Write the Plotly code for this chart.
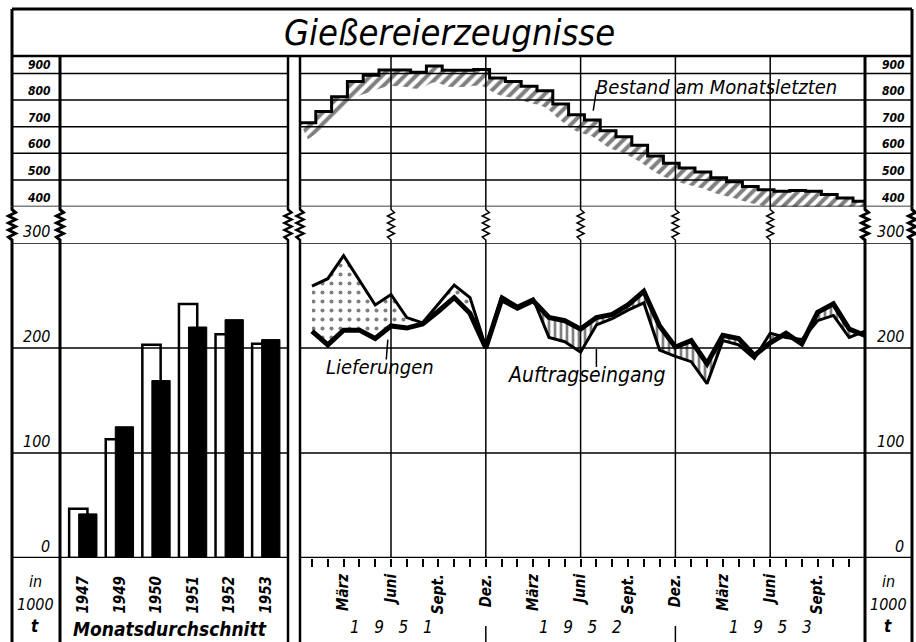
import numpy as np
import plotly.graph_objects as go

W, H = 916, 642

# ---- data (in 1000 t) ----
years = ["1947", "1949", "1950", "1951", "1952", "1953"]
avg_orders = [47, 113, 203, 242, 213, 204]        # Auftragseingang, Monatsdurchschnitt (weiss)
avg_deliveries = [42, 125, 169, 220, 227, 208]    # Lieferungen, Monatsdurchschnitt (schwarz)

month_names = ["Jan.", "Febr.", "März", "April", "Mai", "Juni",
               "Juli", "Aug.", "Sept.", "Okt.", "Nov.", "Dez."]
shown_months = ["März", "Juni", "Sept.", "Dez."]
year_labels = ["1   9   5   1", "1   9   5   2", "1   9   5   3"]

# Jan 1951 .. Dez 1953
orders = [259, 266, 288, 265, 241, 251, 229, 224, 242, 260, 248, 201,
          249, 240, 247, 210, 206, 196, 222, 228, 236, 243, 198, 192,
          187, 166, 207, 203, 190, 214, 210, 208, 226, 231, 210, 216]
deliveries = [216, 203, 217, 217, 209, 221, 219, 223, 235, 248, 233, 200,
              246, 238, 245, 229, 226, 218, 229, 232, 241, 254, 221, 201,
              207, 185, 212, 209, 193, 205, 214, 204, 234, 242, 218, 212]
stock = [715, 757, 813, 870, 893, 913, 913, 905, 928, 912, 912, 915,
         883, 870, 852, 835, 785, 745, 725, 685, 662, 630, 590, 563,
         545, 530, 508, 493, 475, 463, 457, 460, 457, 445, 432, 420]

# ---- layout geometry (pixels) ----
X_L, X_COL, X_BAR_R, X_MON_L, X_MON_R, X_R = 12, 60, 288, 300, 865, 912
Y_T, Y_TITLE, Y_UP_B, Y_LO_T, Y_ZERO, Y_B = 9, 56, 206.5, 243, 558, 645
M0, M1 = -0.76, 35.0
UP_PX_PER_UNIT = 0.266
UP_RANGE = [400, 400 + (Y_UP_B - Y_TITLE) / UP_PX_PER_UNIT]
STEP_SHIFT = -0.76


def px(x):
    return x / W


def py(y):
    return 1 - y / H


def m_px(m):
    return X_MON_L + (m - M0) / (M1 - M0) * (X_MON_R - X_MON_L)


FONT = "DejaVu Sans Condensed, Liberation Sans Narrow, DejaVu Sans, sans-serif"

n = len(orders)
mx = np.arange(n, dtype=float)
a = np.array(orders, float)
d = np.array(deliveries, float)


def with_crossings(x, a, b):
    xs, aa, bb = [x[0]], [a[0]], [b[0]]
    for i in range(1, len(x)):
        d0, d1 = a[i - 1] - b[i - 1], a[i] - b[i]
        if d0 * d1 < 0:
            t = d0 / (d0 - d1)
            xc = x[i - 1] + t * (x[i] - x[i - 1])
            yc = a[i - 1] + t * (a[i] - a[i - 1])
            xs.append(xc); aa.append(yc); bb.append(yc)
        xs.append(x[i]); aa.append(a[i]); bb.append(b[i])
    return np.array(xs), np.array(aa), np.array(bb)


xi, ai, di = with_crossings(mx, a, d)

fig = go.Figure()

# bars: monthly averages
bx = np.arange(len(years))
fig.add_trace(go.Bar(x=bx, y=avg_orders, width=0.5, offset=-0.38,
                     marker=dict(color="white", line=dict(color="black", width=2.5)),
                     xaxis="x", yaxis="y", showlegend=False))
fig.add_trace(go.Bar(x=bx, y=avg_deliveries, width=0.5, offset=-0.12,
                     marker=dict(color="black", line=dict(color="black", width=1)),
                     xaxis="x", yaxis="y", showlegend=False))

# dotted area: orders above deliveries
fig.add_trace(go.Scatter(x=xi, y=di, mode="lines", line=dict(width=0), xaxis="x2", yaxis="y",
                         showlegend=False, hoverinfo="skip"))
fig.add_trace(go.Scatter(x=xi, y=np.maximum(ai, di), mode="lines", line=dict(width=0),
                         fill="tonexty", fillcolor="white",
                         fillpattern=dict(shape=".", fgcolor="black", bgcolor="white", size=9, solidity=0.16),
                         xaxis="x2", yaxis="y", showlegend=False, hoverinfo="skip"))
# vertical hatch: deliveries above orders
fig.add_trace(go.Scatter(x=xi, y=np.minimum(ai, di), mode="lines", line=dict(width=0), xaxis="x2", yaxis="y",
                         showlegend=False, hoverinfo="skip"))
fig.add_trace(go.Scatter(x=xi, y=di, mode="lines", line=dict(width=0),
                         fill="tonexty", fillcolor="white",
                         fillpattern=dict(shape="|", fgcolor="black", bgcolor="white", size=6, solidity=0.45),
                         xaxis="x2", yaxis="y", showlegend=False, hoverinfo="skip"))
fig.add_trace(go.Scatter(x=mx, y=a, mode="lines", line=dict(color="black", width=3),
                         xaxis="x2", yaxis="y", showlegend=False, name="Auftragseingang"))
fig.add_trace(go.Scatter(x=mx, y=d, mode="lines", line=dict(color="black", width=5),
                         xaxis="x2", yaxis="y", showlegend=False, name="Lieferungen"))

# stock at month end, with hatched shading below
s = np.array(stock, float)
sx = np.append(mx + STEP_SHIFT, M1)
sy = np.append(s, s[-1])
fig.add_trace(go.Scatter(x=mx + STEP_SHIFT + 0.5, y=s - 62, mode="lines", line=dict(width=0, shape="spline"),
                         xaxis="x2", yaxis="y2", showlegend=False, hoverinfo="skip"))
fig.add_trace(go.Scatter(x=sx, y=sy, mode="lines", line=dict(color="black", width=3, shape="hv"),
                         fill="tonexty", fillcolor="white",
                         fillpattern=dict(shape="/", fgcolor="black", bgcolor="white", size=8, solidity=0.5),
                         xaxis="x2", yaxis="y2", showlegend=False, name="Bestand"))

shapes = []


def hline(y, yref, x0, x1, w=1.5):
    shapes.append(dict(type="line", xref="paper", yref=yref, x0=px(x0), x1=px(x1), y0=y, y1=y,
                       line=dict(color="black", width=w)))


def vline_px(x, y0, y1, w):
    shapes.append(dict(type="line", xref="paper", yref="paper", x0=px(x), x1=px(x), y0=py(y0), y1=py(y1),
                       line=dict(color="black", width=w)))


def zigzag(x, w, amp=3.5):
    pts = [(x, Y_UP_B), (x, Y_UP_B + 3)]
    ys = np.linspace(Y_UP_B + 6, Y_LO_T - 6, 8)
    for i, yy in enumerate(ys):
        pts.append((x + (amp if i % 2 == 0 else -amp), yy))
    pts += [(x, Y_LO_T - 3), (x, Y_LO_T)]
    path = "M " + " L ".join(f"{px(p[0]):.5f},{py(p[1]):.5f}" for p in pts)
    shapes.append(dict(type="path", xref="paper", yref="paper", path=path,
                       line=dict(color="black", width=w)))


def full_vline(x, w, y_end=Y_B):
    vline_px(x, Y_TITLE, Y_UP_B, w)
    zigzag(x, w)
    vline_px(x, Y_LO_T, y_end, w)


# outer frame and title box
vline_px(X_L, Y_T, Y_TITLE, 3)
vline_px(X_R, Y_T, Y_TITLE, 3)
hline(py(Y_T), "paper", X_L, X_R, 3)
hline(py(Y_TITLE), "paper", X_L, X_R, 2.5)

for x, w in [(X_L, 3), (X_COL, 3), (X_BAR_R, 2.5), (X_MON_L, 2.5), (X_MON_R, 3), (X_R, 3)]:
    full_vline(x, w)

# month grid verticals (Juni / Dez.)
for m in range(n - 1):
    if month_names[m % 12] in ("Juni", "Dez."):
        full_vline(m_px(m), 1.5, Y_ZERO)

# year separators under the axis
for m in range(n - 1):
    if month_names[m % 12] == "Dez.":
        vline_px(m_px(m), 626, Y_B, 1.5)

# horizontal lines
for v in [900, 800, 700, 600, 500, 400]:
    hline(v, "y2", X_L, X_BAR_R, 1.5)
    hline(v, "y2", X_MON_L, X_R, 1.5)
for v in [300, 200, 100]:
    hline(v, "y", X_L, X_BAR_R, 1.5)
    hline(v, "y", X_MON_L, X_R, 1.5)
hline(0, "y", X_L, X_BAR_R, 2.5)
hline(0, "y", X_MON_L, X_R, 2.5)

# leader lines for the labels
shapes.append(dict(type="line", xref="x2", yref="y", x0=4.7, x1=4.8, y0=189, y1=208,
                   line=dict(color="black", width=1.5)))
shapes.append(dict(type="line", xref="x2", yref="y", x0=18.0, x1=18.0, y0=182, y1=199,
                   line=dict(color="black", width=1.5)))
shapes.append(dict(type="line", xref="x2", yref="y2", x0=18.0, x1=17.8, y0=838, y1=760,
                   line=dict(color="black", width=1.5)))

ann = []
TF = dict(family=FONT, color="black", style="italic")


def label(text, x, y, xref="paper", yref="paper", size=16, weight="normal", xanchor="center",
          yanchor="middle", angle=0):
    ann.append(dict(text=text, x=x, y=y, xref=xref, yref=yref, showarrow=False, xanchor=xanchor,
                    yanchor=yanchor, textangle=angle,
                    font=dict(TF, size=size, weight=weight)))


label("Gießereierzeugnisse", px(449), py(33), size=36)

for v in [900, 800, 700, 600, 500, 400]:
    label(str(v), px(53), v, yref="y2", size=12, weight="bold", xanchor="right", yanchor="bottom")
    label(str(v), px(907), v, yref="y2", size=12, weight="bold", xanchor="right", yanchor="bottom")
for v in [300, 200, 100, 0]:
    label(str(v), px(52), v, yref="y", size=16, xanchor="right", yanchor="bottom")
    label(str(v), px(906), v, yref="y", size=16, xanchor="right", yanchor="bottom")

for cx in (35, 888):
    label("in", px(cx), py(581), size=16)
    label("1000", px(cx), py(604), size=16)
    label("t", px(cx), py(626), size=17, weight="bold")

label("Monatsdurchschnitt", px(170), py(629), size=19, weight="bold")

for k, txt in enumerate(year_labels):
    label(txt, 5 + 12 * k, py(627), xref="x2", size=17)

label("Lieferungen", 4.3, 182, xref="x2", yref="y", size=20)
label("Auftragseingang", 17.4, 174, xref="x2", yref="y", size=21)
label("Bestand am Monatsletzten", 25.6, 849, xref="x2", yref="y2", size=20)

tick_text = [month_names[m % 12] if (month_names[m % 12] in shown_months and m < n - 1) else ""
             for m in range(n)]

fig.update_layout(
    width=W, height=H, margin=dict(l=0, r=0, t=0, b=0),
    paper_bgcolor="white", plot_bgcolor="white", barmode="overlay", showlegend=False,
    xaxis=dict(domain=[px(X_COL), px(X_BAR_R)], range=[-0.63, 5.6], anchor="y",
               tickvals=list(bx), ticktext=years, tickangle=-90, ticks="", ticklabelstandoff=14,
               tickfont=dict(TF, size=15, weight="bold"), showgrid=False, zeroline=False, showline=False),
    xaxis2=dict(domain=[px(X_MON_L), px(X_MON_R)], range=[M0, M1], anchor="y",
                tickvals=list(mx[:-1]), ticktext=tick_text[:-1], tickangle=-90, ticks="outside", ticklen=8,
                tickwidth=1.5, tickcolor="black", ticklabelstandoff=1,
                tickfont=dict(TF, size=15, weight="bold"), showgrid=False, zeroline=False, showline=False),
    yaxis=dict(domain=[py(Y_ZERO), py(Y_LO_T)], range=[0, 300], anchor="x",
               showticklabels=False, showgrid=False, zeroline=False, showline=False),
    yaxis2=dict(domain=[py(Y_UP_B), py(Y_TITLE)], range=UP_RANGE, anchor="x2",
                showticklabels=False, showgrid=False, zeroline=False, showline=False),
    shapes=shapes, annotations=ann,
)

fig.write_html("out.html", config={"displayModeBar": False},
               post_script="document.body.style.margin='0';document.body.style.overflow='hidden';")
